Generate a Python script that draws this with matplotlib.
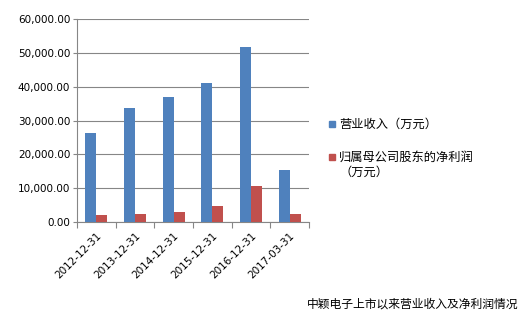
import numpy as np
import matplotlib
matplotlib.use("Agg")
import matplotlib.pyplot as plt
from matplotlib.patches import Rectangle

plt.rcParams['font.family'] = ['DejaVu Sans', 'Noto Sans CJK SC']

dates = ["2012-12-31", "2013-12-31", "2014-12-31", "2015-12-31", "2016-12-31", "2017-03-31"]
revenue = [26300, 33700, 36950, 41080, 51720, 15460]
net_profit = [2160, 2450, 3000, 4820, 10730, 2500]
label_rev = "营业收入（万元）"
label_np = ["归属母公司股东的净利润", "（万元）"]
caption = "中颖电子上市以来营业收入及净利润情况"

blue = "#4F81BD"
red = "#C0504D"
grid_c = "#868686"

W, H = 528, 314
fig = plt.figure(figsize=(W / 100, H / 100), dpi=100)
ax = fig.add_axes([0.146, 0.293, 0.439, 0.646])

x = np.arange(len(dates))
w = 0.285
ax.bar(x - w / 2, revenue, w, color=blue, zorder=3)
ax.bar(x + w / 2, net_profit, w, color=red, zorder=3)

ax.set_xlim(-0.5, len(dates) - 0.5)
ax.set_ylim(0, 60000)
ax.set_yticks(np.arange(0, 60001, 10000))
ax.set_yticklabels([f"{v:,.2f}" for v in range(0, 60001, 10000)], fontsize=7.5)
ax.yaxis.grid(True, color=grid_c, linewidth=0.8, zorder=0)
ax.set_xticks(np.append(x - 0.5, len(dates) - 0.5))
ax.set_xticklabels([])
ax.set_xticks(x, minor=True)
ax.set_xticklabels(dates, minor=True, rotation=45, ha='right', rotation_mode='anchor', fontsize=7.5)
ax.tick_params(axis='x', which='minor', length=0, pad=6)
ax.tick_params(axis='x', which='major', length=4, color=grid_c)
ax.tick_params(axis='y', length=3, color=grid_c, pad=2)
for s in ['top', 'right']:
    ax.spines[s].set_visible(False)
for s in ['left', 'bottom']:
    ax.spines[s].set_color(grid_c)

# legend drawn by hand (pixel positions from the reference)
def fx(px):
    return px / W

def fy(py):
    return 1 - py / H

sq = 6.5
for col, yc in [(blue, 124), (red, 157)]:
    fig.patches.append(Rectangle((fx(328.5), fy(yc + sq / 2)), sq / W, sq / H,
                                 transform=fig.transFigure, color=col))
fig.text(fx(339), fy(124), label_rev, ha='left', va='center', fontsize=8.8)
fig.text(fx(339), fy(157), label_np[0], ha='left', va='center', fontsize=8.8)
fig.text(fx(340), fy(172), label_np[1], ha='left', va='center', fontsize=8.8)

fig.text(fx(518), fy(304), caption, ha='right', va='center', fontsize=8.5)

fig.savefig("out.png", dpi=100)
